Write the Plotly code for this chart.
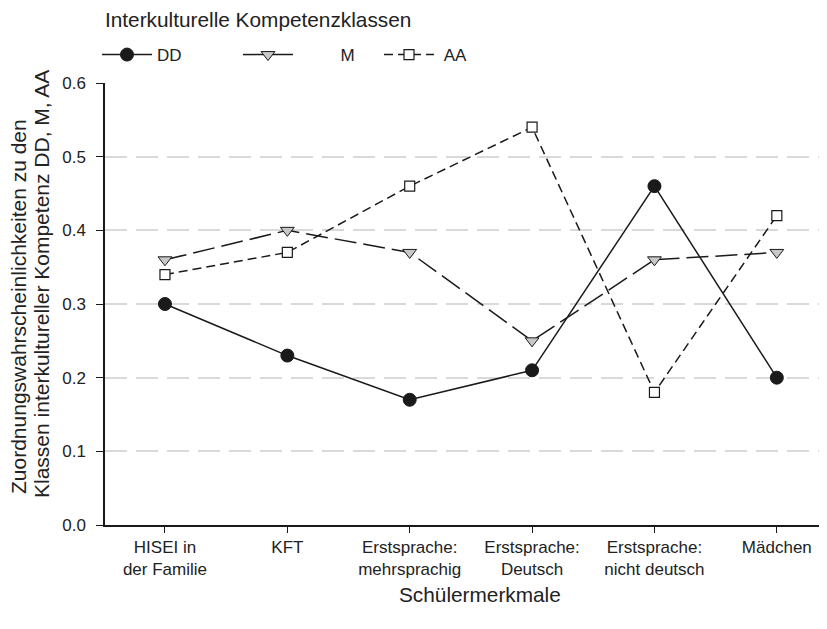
import plotly.graph_objects as go

categories = ["HISEI in<br>der Familie", "KFT", "Erstsprache:<br>mehrsprachig",
              "Erstsprache:<br>Deutsch", "Erstsprache:<br>nicht deutsch", "Mädchen"]
dd_values = [0.30, 0.23, 0.17, 0.21, 0.46, 0.20]
m_values = [0.36, 0.40, 0.37, 0.25, 0.36, 0.37]
aa_values = [0.34, 0.37, 0.46, 0.54, 0.18, 0.42]
y_ticks = [0.0, 0.1, 0.2, 0.3, 0.4, 0.5, 0.6]
y_ticklabels = ["0.0", "0.1", "0.2", "0.3", "0.4", "0.5", "0.6"]
y_title_lines = ["Zuordnungswahrscheinlichkeiten zu den",
                 "Klassen interkultureller Kompetenz DD, M, AA"]

FONT = "Liberation Sans, Arial, sans-serif"
INK = "#1a1a1a"
TXT = "#222222"
NB = "\u00a0"

# page body has an 8px margin; figure coordinates are offset accordingly
L, T, R, B = 97, 75, 8, 112
PW, PH = 827 - L - R, 629 - T - B

x_idx = list(range(len(categories)))

fig = go.Figure()
fig.add_trace(go.Scatter(
    x=x_idx, y=dd_values, name="DD", mode="lines+markers",
    line=dict(color=INK, width=1.5, dash="solid"),
    marker=dict(symbol="circle", size=13, color=INK, line=dict(color=INK, width=1)),
))
fig.add_trace(go.Scatter(
    x=x_idx, y=m_values, name=NB * 9 + "M", mode="lines+markers",
    line=dict(color=INK, width=1.5, dash="22px,7px"),
    marker=dict(symbol="triangle-down", size=12, color="#c8c8c8", line=dict(color=INK, width=1)),
))
fig.add_trace(go.Scatter(
    x=x_idx, y=aa_values, name=NB + "AA", mode="lines+markers",
    line=dict(color=INK, width=1.5, dash="9px,5px"),
    marker=dict(symbol="square", size=10, color="white", line=dict(color=INK, width=1.2)),
))

annotations = [
    dict(text="Schülermerkmale", xref="paper", yref="paper",
         x=(472 - L) / PW, y=-(586 - (T + PH)) / PH, xanchor="center", yanchor="middle",
         showarrow=False, font=dict(family=FONT, size=20.8, color=TXT)),
]
for line_text, cx, cy in zip(y_title_lines, [10, 33], [299, 276]):
    annotations.append(dict(
        text=line_text, xref="paper", yref="paper",
        x=(cx - L) / PW, y=1 - (cy - T) / PH, xanchor="center", yanchor="middle",
        textangle=-90, showarrow=False, font=dict(family=FONT, size=21, color=TXT)))

fig.update_layout(
    width=827, height=629,
    margin=dict(l=L, r=R, t=T, b=B),
    plot_bgcolor="white", paper_bgcolor="white",
    font=dict(family=FONT, size=17, color=TXT),
    title=dict(text="Interkulturelle Kompetenzklassen", x=L / 827, xanchor="left",
               xref="container", y=1 - 12 / 629, yanchor="middle", yref="container",
               font=dict(family=FONT, size=20.8, color=TXT)),
    showlegend=True,
    legend=dict(
        orientation="h", x=-8 / PW, xanchor="left", y=1 + (T - 47) / PH, yanchor="middle",
        font=dict(family=FONT, size=17, color=TXT), itemwidth=50,
        entrywidth=76, bgcolor="rgba(0,0,0,0)", borderwidth=0,
    ),
    xaxis=dict(
        range=[-0.49, 5.41], tickmode="array", tickvals=x_idx, ticktext=categories,
        showline=True, linecolor=INK, linewidth=1.5, ticks="outside", ticklen=6,
        tickcolor=INK, tickwidth=1.2, showgrid=False, zeroline=False,
        tickfont=dict(family=FONT, size=17, color=TXT),
    ),
    yaxis=dict(
        range=[0, 0.6], tickmode="array", tickvals=y_ticks, ticktext=y_ticklabels,
        showline=True, linecolor=INK, linewidth=1.5, ticks="outside", ticklen=7,
        tickcolor=INK, tickwidth=1.2, showgrid=True, gridcolor="#d9d9d9",
        gridwidth=1.5, griddash="22px,9px", zeroline=False, ticklabelstandoff=7,
        tickfont=dict(family=FONT, size=17, color=TXT),
    ),
    annotations=annotations,
)

fig.write_html("out.html")
